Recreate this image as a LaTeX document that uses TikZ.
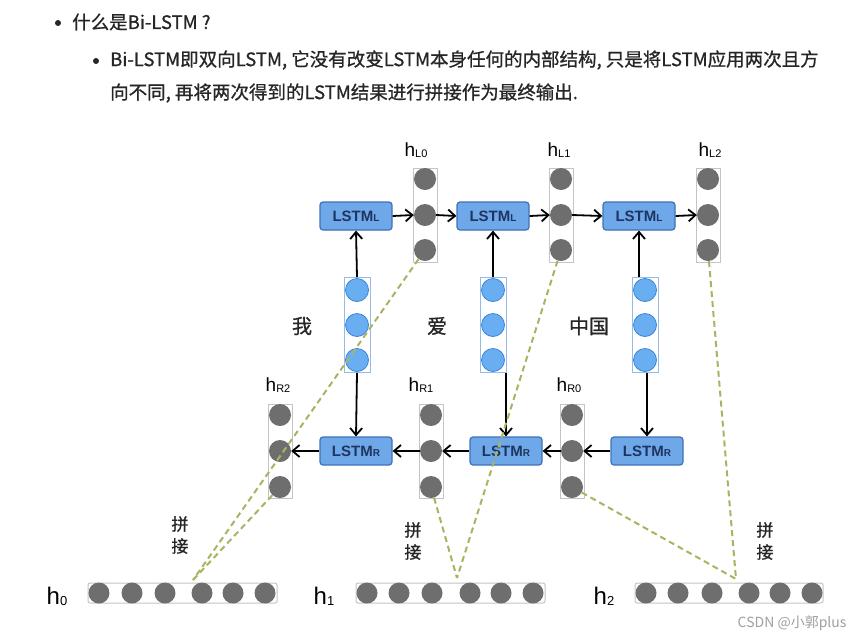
\documentclass[tikz,border=0pt]{standalone}
\usepackage{fontspec}
\setmainfont{Noto Sans CJK SC}
\newfontfamily\headfont[FakeBold=0.8]{Noto Sans CJK SC}
\newfontfamily\labfont{Liberation Sans}
\usetikzlibrary{arrows.meta}
\definecolor{boxfill}{HTML}{6FA8E8}
\definecolor{boxdraw}{HTML}{3D72B8}
\definecolor{boxtext}{HTML}{1E3560}
\definecolor{hgray}{HTML}{6E6E6E}
\definecolor{colline}{HTML}{C4C4C4}
\definecolor{bluec}{HTML}{6AAEF2}
\definecolor{bluecd}{HTML}{3C84D8}
\definecolor{dashg}{HTML}{A9B462}
\definecolor{wmark}{HTML}{A0A0A0}
\definecolor{txtc}{HTML}{262626}
\newcommand\hlab[1]{{\labfont\fontsize{19}{19}\selectfont h}{\labfont\fontsize{11}{11}\selectfont\raisebox{-1pt}{#1}}}
\newcommand\hbig[1]{{\labfont\fontsize{24}{24}\selectfont h}{\labfont\fontsize{13}{13}\selectfont\raisebox{-1pt}{#1}}}
\newcommand\lstmlab[1]{{\labfont\bfseries\fontsize{15}{15}\selectfont LSTM\fontsize{10}{10}\selectfont #1}}
\begin{document}
\begin{tikzpicture}[x=1pt,y=-1pt,
  lstm/.style={draw=boxdraw, fill=boxfill, rounded corners=3pt, minimum width=72pt, minimum height=28pt, line width=1.2pt, text=boxtext, inner sep=0pt},
  gc/.style={circle, fill=hgray, minimum size=22pt, inner sep=0pt},
  rc/.style={circle, fill=hgray, minimum size=21pt, inner sep=0pt},
  bc/.style={circle, fill=bluec, draw=bluecd, line width=0.8pt, minimum size=23pt, inner sep=0pt},
  vcol/.style={draw=colline, line width=1pt, minimum width=24pt, minimum height=94pt, inner sep=0pt},
  bcol/.style={draw=bluecd!55, line width=1pt, minimum width=26pt, minimum height=95pt, inner sep=0pt},
  hrow/.style={draw=colline, line width=1pt, rounded corners=2pt, minimum height=20pt, inner sep=0pt},
  arr/.style={-{Straight Barb[length=7pt,width=12pt,line width=1.8pt]}, line width=1.8pt, black},
  dl/.style={draw=dashg, dash pattern=on 6pt off 4pt, line width=2pt},
  bul/.style={circle, fill=txtc, minimum size=6pt, inner sep=0pt},
  word/.style={text=txtc, font=\headfont\fontsize{20}{20}\selectfont},
  pj/.style={text=txtc, font=\headfont\fontsize{17}{22}\selectfont, align=center},
  txt/.style={text=txtc, font=\headfont\fontsize{18.5}{18.5}\selectfont, anchor=west, inner sep=0pt}
]
\useasboundingbox (0,0) rectangle (865,641);
\fill[white] (0,0) rectangle (865,641);

% heading text
\node[bul] (b1) at (58,23) {};
\node[txt] (t1) at (72,22) {什么是Bi-LSTM ?};
\node[bul] (b2) at (96,61) {};
\node[txt] (t2) at (110,60) {Bi-LSTM即双向LSTM, 它没有改变LSTM本身任何的内部结构, 只是将LSTM应用两次且方};
\node[txt] (t3) at (110,93) {向不同, 再将两次得到的LSTM结果进行拼接作为最终输出.};

% hL columns
\foreach \n/\x in {0/425,1/561,2/708}{
  \node[vcol] (hL\n) at (\x,215) {};
  \node[gc] (hL\n t) at (\x,179) {};
  \node[gc] (hL\n m) at (\x,215) {};
  \node[gc] (hL\n b) at (\x,250) {};
}
\node (lhL0) at (416,150) {\hlab{L0}};
\node (lhL1) at (559,150) {\hlab{L1}};
\node (lhL2) at (710,150) {\hlab{L2}};

% LSTM_L
\node[lstm] (L1) at (356,216) {\lstmlab{L}};
\node[lstm] (L2) at (493,216) {\lstmlab{L}};
\node[lstm] (L3) at (639,216) {\lstmlab{L}};

% inputs
\foreach \n/\x in {1/357,2/493,3/645}{
  \node[bcol] (in\n) at (\x,325) {};
  \node[bc] (in\n t) at (\x,290) {};
  \node[bc] (in\n m) at (\x,325) {};
  \node[bc] (in\n b) at (\x,360) {};
}
\node[word] (w1) at (302,326) {我};
\node[word] (w2) at (437,326) {爱};
\node[word] (w3) at (589,326) {中国};

% LSTM_R
\node[lstm] (R1) at (356,451) {\lstmlab{R}};
\node[lstm] (R2) at (506,451) {\lstmlab{R}};
\node[lstm] (R3) at (647,451) {\lstmlab{R}};

% hR columns
\foreach \n/\x in {2/280,1/431,0/572}{
  \node[vcol] (hR\n) at (\x,451) {};
  \node[gc] (hR\n t) at (\x,415) {};
  \node[gc] (hR\n m) at (\x,451) {};
  \node[gc] (hR\n b) at (\x,487) {};
}
\node (lhR2) at (278,385) {\hlab{R2}};
\node (lhR1) at (421,385) {\hlab{R1}};
\node (lhR0) at (569,385) {\hlab{R0}};

% arrows
\draw[arr] (in1.north) -- (L1.south);
\draw[arr] (in2.north) -- (L2.south);
\draw[arr] (in3.north -| L3.south) -- (L3.south);
\draw[arr] (in1.south) -- (R1.north);
\draw[arr] (in2.south -| R2.north) -- (R2.north);
\draw[arr] (in3.south -| R3.north) -- (R3.north);
\draw[arr] (L1.east) -- (hL0m.west);
\draw[arr] (hL0m.east) -- (L2.west);
\draw[arr] (L2.east) -- (hL1m.west);
\draw[arr] (hL1m.east) -- (L3.west);
\draw[arr] (L3.east) -- (hL2m.west);
\draw[arr] (R3.west) -- (hR0m.east);
\draw[arr] (hR0m.west) -- (R2.east);
\draw[arr] (R2.west) -- (hR1m.east);
\draw[arr] (hR1m.west) -- (R1.east);
\draw[arr] (R1.west) -- (hR2m.east);

% bottom rows
\node[hrow, minimum width=189pt] (h0) at (182.5,593) {};
\node[hrow, minimum width=189pt] (h1) at (450.5,593) {};
\node[hrow, minimum width=188pt] (h2) at (729,593) {};
\foreach \x [count=\i] in {99,132,165,202,233,265}{ \node[rc] (h0c\i) at (\x,593) {}; }
\foreach \x [count=\i] in {367,399,432,470,501,533}{ \node[rc] (h1c\i) at (\x,593) {}; }
\foreach \x [count=\i] in {646,678,712,749,780,812}{ \node[rc] (h2c\i) at (\x,593) {}; }
\node (lh0) at (57,596) {\hbig{0}};
\node (lh1) at (324,596) {\hbig{1}};
\node (lh2) at (604,596) {\hbig{2}};

% concat labels
\node[pj] (p0) at (180,535) {拼\\接};
\node[pj] (p1) at (413,541) {拼\\接};
\node[pj] (p2) at (765,541) {拼\\接};

% dashed connectors
\coordinate (j0) at (193,580);
\coordinate (j1) at (457,578);
\coordinate (j2) at (736,579);
\draw[dl] (hL0b) -- (j0);
\draw[dl] (hR2b) -- (j0);
\draw[dl] (hL1b) -- (j1);
\draw[dl] (hR1b) -- (j1);
\draw[dl] (hL2b) -- (j2);
\draw[dl] (hR0b) -- (j2);

% watermark
\node[text=wmark, font=\fontsize{14}{14}\selectfont, anchor=east] (wm) at (850,623) {CSDN @小郭plus};
\end{tikzpicture}
\end{document}
